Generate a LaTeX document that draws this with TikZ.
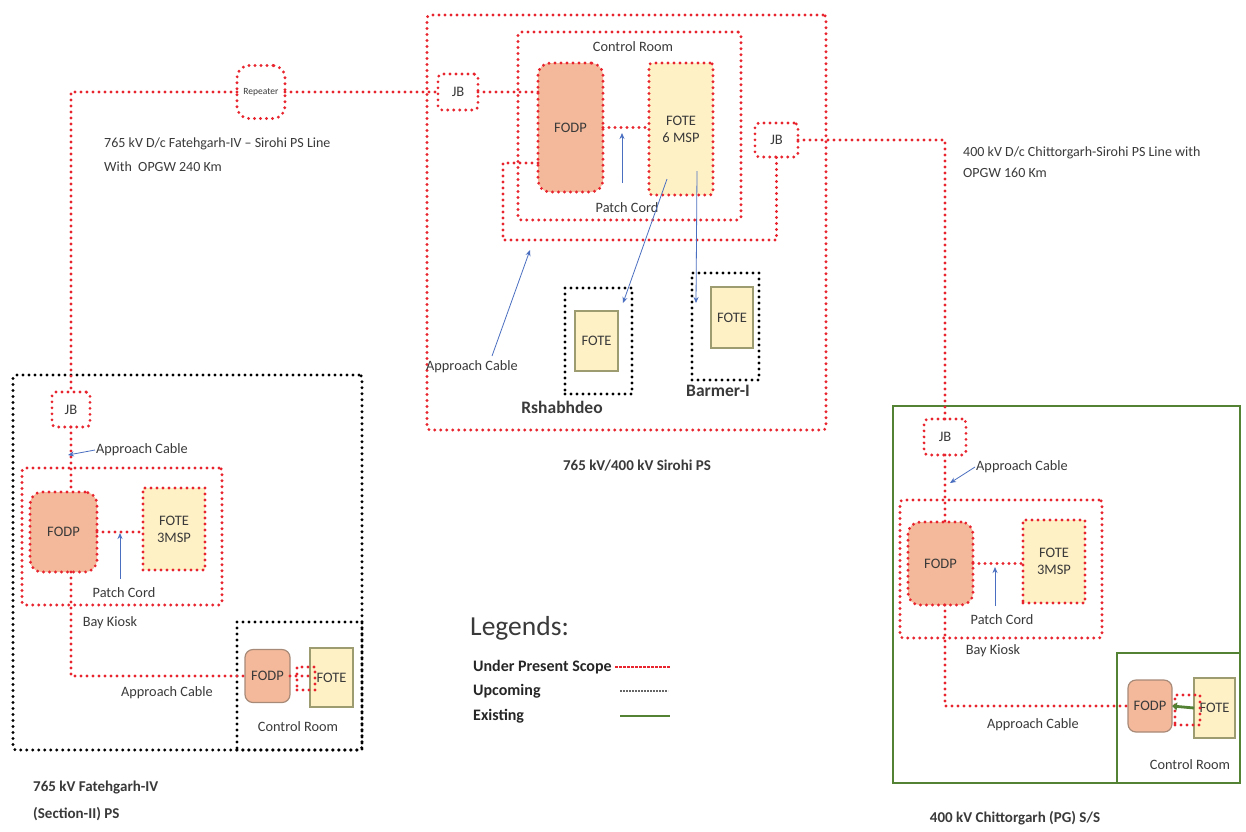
\documentclass[tikz,border=0pt]{standalone}
\usepackage{fontspec}
\setmainfont{Carlito}
\usetikzlibrary{arrows.meta,calc}
\definecolor{redd}{HTML}{E8252F}
\definecolor{grn}{HTML}{548235}
\definecolor{fodpc}{HTML}{F4B99A}
\definecolor{fotec}{HTML}{FFF1C6}
\definecolor{fotebd}{HTML}{9C9C70}
\definecolor{fodpbd}{HTML}{A88A78}
\definecolor{txt}{HTML}{3A3A3A}
\definecolor{blu}{HTML}{4A6FC0}
\begin{document}
\begin{tikzpicture}[x=1pt,y=-1pt]
\tikzset{
 reddot/.style={draw=redd, line width=3.2pt, dash pattern=on 0pt off 6pt, line cap=round},
 blkdot/.style={draw=black, line width=3.2pt, dash pattern=on 0pt off 6pt, line cap=round},
 grnline/.style={draw=grn, line width=2.6pt},
 boxn/.style={inner sep=0pt, outer sep=0pt, text=txt, font=\fontsize{14.5}{17}\selectfont, align=center},
 fodpfill/.style={fill=fodpc, rounded corners=12pt},
 fotefill/.style={fill=fotec},
 jbbox/.style={boxn, reddot, rounded corners=4pt},
 lbl/.style={text=txt, font=\fontsize{14.3}{16}\selectfont, inner sep=1pt},
 ttl/.style={text=txt, font=\bfseries\fontsize{15}{27}\selectfont, align=left, inner sep=1pt},
 legi/.style={anchor=west, text=black!85, font=\bfseries\fontsize{16}{18}\selectfont, inner sep=1pt},
 barr/.style={draw=blu, line width=0.8pt, -{Stealth[length=6pt,width=5pt]}},
}
\useasboundingbox[fill=white] (0,0) rectangle (1246,831);

% ---------------- Sirohi ----------------
\node[boxn, reddot, rounded corners=3pt, minimum width=399pt, minimum height=415pt] (sirohi) at (626.5,222.5) {};
\node[boxn, reddot, rounded corners=3pt, minimum width=223pt, minimum height=188pt] (crS) at (629.5,126) {};
\node[lbl] (crSl) at (633,47) {Control Room};
\node[boxn, reddot, fodpfill, minimum width=65pt, minimum height=129pt] (fodpS) at (570.5,127.5) {FODP};
\node[boxn, reddot, fotefill, rounded corners=3pt, minimum width=64pt, minimum height=132pt] (foteS) at (681,129) {FOTE\\6 MSP};
\node[jbbox, minimum width=40pt, minimum height=36pt] (jbL) at (458,92) {JB};
\node[jbbox, minimum width=43pt, minimum height=34pt] (jbR) at (776.5,140) {JB};
\node[boxn, reddot, rounded corners=12pt, minimum width=48pt, minimum height=53pt, font=\fontsize{9.5}{10}\selectfont] (rep) at (261,92) {Repeater};

\node[boxn, blkdot, minimum width=67pt, minimum height=106pt] (rshB) at (598.5,341) {};
\node[boxn, fotefill, draw=fotebd, line width=1.2pt, minimum width=43pt, minimum height=60pt] (rshF) at (596.5,341) {FOTE};
\node[ttl, font=\bfseries\fontsize{17.5}{19}\selectfont] (rshL) at (562,407) {Rshabhdeo};
\node[boxn, blkdot, minimum width=67pt, minimum height=107pt] (barB) at (725.5,326.5) {};
\node[boxn, fotefill, draw=fotebd, line width=1.2pt, minimum width=42pt, minimum height=61pt] (barF) at (732,317.5) {FOTE};
\node[ttl, font=\bfseries\fontsize{17.5}{19}\selectfont] (barL) at (718,391) {Barmer-I};
\node[ttl] (sirT) at (637,466) {765 kV/400 kV Sirohi PS};

\node[lbl] (pcS) at (627,208) {Patch Cord};
\node[lbl] (apS) at (472,367) {Approach Cable};

\node[lbl, align=left, anchor=west, font=\fontsize{14}{24}\selectfont] (lineL) at (103,155) {765 kV D/c Fatehgarh-IV \textendash{} Sirohi PS Line\\With~~OPGW 240 Km};
\node[lbl, align=left, anchor=west, font=\fontsize{14}{21}\selectfont] (lineR) at (962,162) {400 kV D/c Chittorgarh-Sirohi PS Line with\\OPGW 160 Km};

% ---------------- Fatehgarh ----------------
\node[boxn, blkdot, rounded corners=3pt, minimum width=349pt, minimum height=375pt] (fat) at (187.5,562.5) {};
\node[jbbox, minimum width=38pt, minimum height=35pt] (jbF) at (71,409.5) {JB};
\node[boxn, reddot, rounded corners=3pt, minimum width=200pt, minimum height=137pt] (bkF) at (122,536.5) {};
\node[boxn, reddot, fodpfill, minimum width=67pt, minimum height=80pt] (fodpF) at (63.5,532) {FODP};
\node[boxn, reddot, fotefill, minimum width=62pt, minimum height=82pt] (foteF) at (174,529) {FOTE\\3MSP};
\node[boxn, blkdot, minimum width=125pt, minimum height=128pt] (crF) at (299.5,686) {};
\node[boxn, fill=fodpc, draw=fodpbd, line width=1.2pt, rounded corners=8pt, minimum width=45pt, minimum height=53pt] (fodpCF) at (267.5,676) {FODP};
\node[boxn, fotefill, draw=fotebd, line width=1.2pt, minimum width=43pt, minimum height=59pt] (foteCF) at (331.5,677.5) {FOTE};
\node[boxn, reddot, minimum width=18pt, minimum height=23pt] (linkF) at (306,678.5) {};

\node[lbl, anchor=west] (apF) at (95,450) {Approach Cable};
\node[lbl] (pcF) at (124,593) {Patch Cord};
\node[lbl] (bkFl) at (110,623) {Bay Kiosk};
\node[lbl] (ap2F) at (167,693) {Approach Cable};
\node[lbl] (crFl) at (298,727) {Control Room};
\node[ttl, anchor=west] (fatT) at (32,801) {765 kV Fatehgarh-IV\\(Section-II) PS};

% ---------------- Chittorgarh ----------------
\node[boxn, grnline, minimum width=347pt, minimum height=377pt] (chi) at (1066.5,594.5) {};
\node[jbbox, minimum width=42pt, minimum height=36pt] (jbC) at (945,437) {JB};
\node[boxn, reddot, rounded corners=3pt, minimum width=202pt, minimum height=138pt] (bkC) at (1001,569) {};
\node[boxn, reddot, fodpfill, minimum width=65pt, minimum height=83pt] (fodpC) at (940.5,563.5) {FODP};
\node[boxn, reddot, fotefill, minimum width=62pt, minimum height=83pt] (foteC) at (1054,561.5) {FOTE\\3MSP};
\node[boxn, grnline, minimum width=123pt, minimum height=130pt] (crC) at (1178.5,718) {};
\node[boxn, fill=fodpc, draw=fodpbd, line width=1.2pt, rounded corners=8pt, minimum width=44pt, minimum height=52pt] (fodpCC) at (1150,706) {FODP};
\node[boxn, fotefill, draw=fotebd, line width=1.2pt, minimum width=41pt, minimum height=60pt] (foteCC) at (1214.5,708) {FOTE};
\node[boxn, reddot, minimum width=25pt, minimum height=30pt] (linkC) at (1187.5,710) {};

\node[lbl, anchor=west] (apC) at (975,467) {Approach Cable};
\node[lbl] (pcC) at (1002,620) {Patch Cord};
\node[lbl] (bkCl) at (993,651) {Bay Kiosk};
\node[lbl] (ap2C) at (1033,725) {Approach Cable};
\node[lbl] (crCl) at (1190,765) {Control Room};
\node[ttl] (chiT) at (1015,818) {400 kV Chittorgarh (PG) S/S};

% ---------------- connectors ----------------
\coordinate (y163) at (0,163);
\coordinate (s1) at (503,240);
\draw[reddot] (rep.east) -- (jbL.west);
\draw[reddot] (rep.west) -| (jbF.north);
\draw[reddot] (jbL.east) -- (jbL.east -| fodpS.west);
\draw[reddot] (fodpS.west |- y163) -| (s1) -| (jbR.south);
\draw[reddot] (fodpS.east) -- (fodpS.east -| foteS.west);
\draw[reddot] (jbR.east) -| (jbC.north);

\draw[reddot] (jbF.south) -- (jbF.south |- fodpF.north);
\draw[reddot] (jbF.south |- fodpF.south) |- (fodpCF.west);
\draw[reddot] (fodpF.east) -- (fodpF.east -| foteF.west);
\draw[reddot] (fodpCF.east) -- (fodpCF.east -| foteCF.west);

\draw[reddot] (jbC.south) -- (jbC.south |- fodpC.north);
\draw[reddot] (jbC.south |- fodpC.south) |- (fodpCC.west);
\draw[reddot] (fodpC.east) -- (fodpC.east -| foteC.west);
\draw[grn, line width=2.8pt, -{Triangle[length=5pt,width=8pt]}] (foteCC.west) -- (fodpCC.east);

% blue pointer arrows
\coordinate (apSs) at (492,356);
\coordinate (apSt) at (530,250);
\draw[barr] (apSs) -- (apSt);
\coordinate (pcSs) at (622,183);
\coordinate (pcSt) at (622,133);
\draw[barr] (pcSs) -- (pcSt);
\coordinate (rsS) at (667,179);
\coordinate (rsT) at (623,303);
\draw[barr] (rsS) -- (rsT);
\coordinate (bmS) at (697,171);
\coordinate (bmT) at (696,303);
\draw[barr] (bmS) -- (bmT);

\coordinate (apFt) at (68,455);
\draw[barr] (apF.west) -- (apFt);
\coordinate (pcFs) at (120,579);
\coordinate (pcFt) at (120,533);
\draw[barr] (pcFs) -- (pcFt);

\coordinate (apCt) at (950,483);
\draw[barr] (apC.west) -- (apCt);
\coordinate (pcCs) at (995,606);
\coordinate (pcCt) at (995,567);
\draw[barr] (pcCs) -- (pcCt);

% ---------------- legend ----------------
\node[anchor=west, text=txt, font=\fontsize{27.5}{30}\selectfont, inner sep=1pt] (leg) at (469,628) {Legends:};
\node[legi] (l1) at (472,667) {Under Present Scope};
\node[legi] (l2) at (472,691) {Upcoming};
\node[legi] (l3) at (472,716) {Existing};
\coordinate (l1a) at (615,667);
\coordinate (l1b) at (670,667);
\coordinate (l2a) at (620,691);
\coordinate (l2b) at (668,691);
\coordinate (l3a) at (620,716);
\coordinate (l3b) at (670,716);
\draw[redd, line width=1.3pt, dash pattern=on 3pt off 1pt] (l1a) -- (l1b);
\draw[black!60, line width=1.2pt, dash pattern=on 2pt off 1pt] (l2a) -- (l2b);
\draw[grn, line width=2.2pt] (l3a) -- (l3b);
\end{tikzpicture}
\end{document}
